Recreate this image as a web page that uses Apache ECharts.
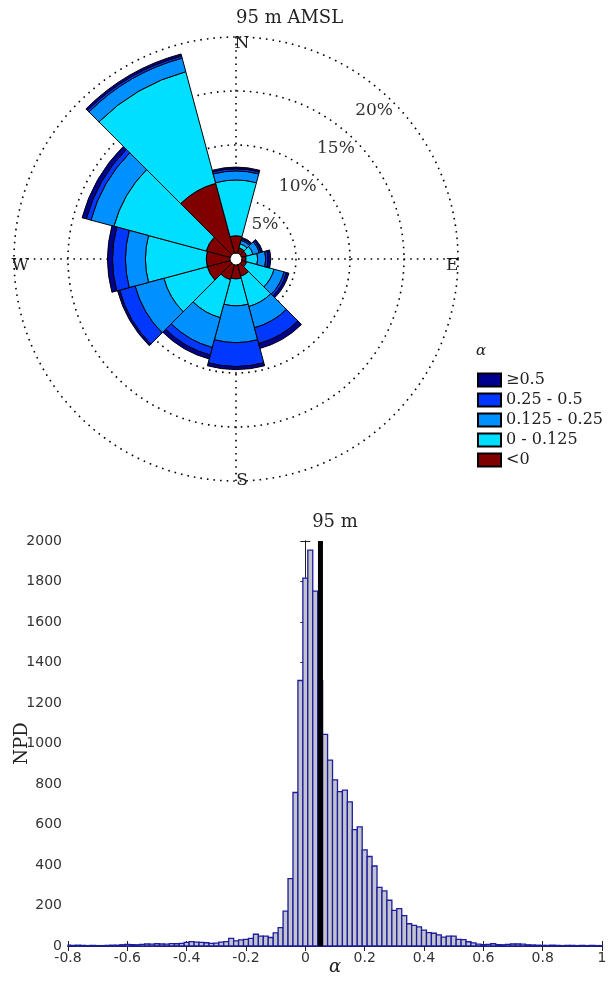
<!DOCTYPE html>
<html><head><meta charset="utf-8">
<script src="https://cdn.jsdelivr.net/npm/echarts@6/dist/echarts.min.js"></script>
<style>html,body{margin:0;padding:0;background:#fff}#c{width:608px;height:983px}</style>
</head><body><div id="c"></div>
<script>
// ---- Wind rose data (percent frequency per 30° sector, compass order) ----
const directions = ['0','30','60','90','120','150','180','210','240','270','300','330'];
const classNames = ['<0','0 - 0.125','0.125 - 0.25','0.25 - 0.5','≥0.5'];
const freqNeg  = [1.6, 0.52,0.46,0.37,0.46,1.10,1.29,1.43,2.20,2.20,2.30,6.70];
const freq0    = [5.16,0.38,0.62,1.08,2.64,2.90,2.49,3.64,4.16,5.63,8.85,10.70];
const freq125  = [0.84,0.33,0.61,0.75,0.96,2.04,3.41,2.86,2.76,1.85,2.20,1.30];
const freq25   = [0.20,0.15,0.15,0.22,0.23,1.52,2.21,0.73,1.48,1.20,0.45,0.20];
const freq5    = [0.15,0.13,0.16,0.25,0.23,0.46,0.28,0.37,0.20,0.46,0.40,0.20];
const classColors = ['#800000','#00dfff','#0090ff','#0038ff','#00008f'];
const ringTicks = [5,10,15,20];
const compassNames = {0:'N',90:'E',180:'S',270:'W'};

// ---- Histogram data ----
const histStart = -0.8;
const histBinWidth = 1/60;
const histCounts = [
  4,3,4,3,2,3,2,2,3,4,4,6,
  8,7,6,8,10,9,11,10,9,12,11,13,
  18,22,19,18,16,13,14,19,22,38,25,30,
  33,38,58,49,49,42,65,91,172,333,758,1311,
  1817,1955,1752,1310,1045,918,820,762,770,712,575,588,
  475,442,395,290,272,226,176,185,150,110,102,94,
  78,66,63,55,44,49,49,33,31,21,15,9,
  7,8,11,7,6,8,10,10,9,6,5,4,
  3,3,4,3,2,3,3,2,3,2,3,2,2
];
const meanAlpha = 0.051;
const xTicks = {min:-0.8, max:1, step:0.2};
const yTicks = {min:0, max:2000, step:200};

const serif = 'DejaVu Serif';
const sans = 'DejaVu Sans';
const dotted = {color:'#000', width:1.6, type:[1.6,5]};
const seriesFreq = [freqNeg, freq0, freq125, freq25, freq5];
const C = [236,259];

const chart = echarts.init(document.getElementById('c'), null, {renderer:'canvas'});
const roseSeries = seriesFreq.map((arr, i) => ({
  type:'bar', coordinateSystem:'polar', polarIndex:0, stack:'rose',
  name: classNames[i], data: arr, barCategoryGap:'0%',
  itemStyle:{color:classColors[i], borderColor:'#000', borderWidth:1},
  z: 3, animation:false
}));

const option = {
  animation:false,
  title:[
    {text:'95 m AMSL', left:236, top:9, padding:0, textStyle:{fontFamily:serif, fontSize:18, fontWeight:'normal', color:'#222'}},
    {text:'α', left:476, top:344, padding:0, textStyle:{fontFamily:serif, fontSize:15, fontStyle:'italic', fontWeight:'normal', color:'#222'}},
    {text:'95 m', left:335, textAlign:'center', top:513, padding:0, textStyle:{fontFamily:serif, fontSize:18, fontWeight:'normal', color:'#222'}}
  ],
  legend:{
    orient:'vertical', left:477, top:372, padding:0, itemWidth:23, itemHeight:13, itemGap:4,
    icon:'rect', selectedMode:false,
    data:['≥0.5','0.25 - 0.5','0.125 - 0.25','0 - 0.125','<0'],
    textStyle:{fontFamily:serif, fontSize:16, lineHeight:14, color:'#222'}
  },
  polar:[
    {center:C, radius:[6,222]},
    {center:C, radius:[6,222]},
    {center:C, radius:[6,222]}
  ],
  angleAxis:[
    {polarIndex:0, type:'category', data:directions, startAngle:105, clockwise:true, show:false},
    {polarIndex:1, type:'value', min:0, max:360, interval:90, startAngle:90, clockwise:true,
     axisLine:{show:false}, axisTick:{show:false},
     splitLine:{show:true, lineStyle:dotted},
     axisLabel:{show:true, margin:-15, color:'#222', fontFamily:serif, fontSize:17,
       formatter: v => { const n = compassNames[v % 360]; return n ? '{'+n.toLowerCase()+'|'+n+'}' : ''; },
       rich:{
         n:{fontFamily:serif, fontSize:17, color:'#222', padding:[0,0,0,12]},
         e:{fontFamily:serif, fontSize:17, color:'#222', padding:[14,0,0,3]},
         s:{fontFamily:serif, fontSize:17, color:'#222', padding:[6,0,0,12]},
         w:{fontFamily:serif, fontSize:17, color:'#222', padding:[14,0,0,0]}
       }}},
    {polarIndex:2, type:'value', min:0, max:360, startAngle:45, clockwise:true, show:false}
  ],
  radiusAxis:[
    {polarIndex:0, type:'value', min:0, max:20, show:false},
    {polarIndex:1, type:'value', min:0, max:20, show:false},
    {polarIndex:2, type:'value', min:0, max:20, interval:5,
     axisLine:{show:false}, axisTick:{show:false},
     splitLine:{show:true, lineStyle:dotted},
     axisLabel:{show:true, margin:0, align:'right', verticalAlign:'top', color:'#333',
       fontFamily:serif, fontSize:17,
       formatter: v => ringTicks.includes(v) ? v + '%' : ''}}
  ],
  grid:[{left:68, top:541, width:534, height:405, containLabel:false, outerBoundsMode:'none'}],
  xAxis:[
    {gridIndex:0, type:'value', position:'bottom', min:xTicks.min, max:xTicks.max, interval:xTicks.step,
     axisLine:{show:true, lineStyle:{color:'#222', width:1}},
     axisTick:{show:true, inside:true, length:5, lineStyle:{color:'#222'}},
     axisLabel:{fontFamily:sans, fontSize:14, color:'#333', margin:5, formatter: v => String(+v.toFixed(1))},
     splitLine:{show:false},
     name:'α', nameLocation:'middle', nameGap:12, nameMoveOverlap:false,
     nameTextStyle:{fontFamily:serif, fontSize:18, fontStyle:'italic', color:'#222'}},
    {gridIndex:0, type:'value', position:'top', min:xTicks.min, max:xTicks.max, interval:xTicks.step,
     axisLine:{show:true, lineStyle:{color:'#222', width:1}},
     axisTick:{show:true, inside:true, length:5, lineStyle:{color:'#222'}},
     axisLabel:{show:false}, splitLine:{show:false}}
  ],
  yAxis:[
    {gridIndex:0, type:'value', position:'left', min:yTicks.min, max:yTicks.max, interval:yTicks.step,
     axisLine:{show:true, lineStyle:{color:'#222', width:1}},
     axisTick:{show:true, inside:true, length:5, lineStyle:{color:'#222'}},
     axisLabel:{fontFamily:sans, fontSize:14, color:'#333', margin:6, formatter: v => String(v)},
     splitLine:{show:false},
     name:'NPD', nameLocation:'middle', nameGap:37, nameRotate:90, nameMoveOverlap:false,
     nameTextStyle:{fontFamily:serif, fontSize:18, color:'#222'}},
    {gridIndex:0, type:'value', position:'right', min:yTicks.min, max:yTicks.max, interval:yTicks.step,
     axisLine:{show:true, lineStyle:{color:'#222', width:1}},
     axisTick:{show:true, inside:true, length:5, lineStyle:{color:'#222'}},
     axisLabel:{show:false}, splitLine:{show:false}}
  ],
  series: roseSeries.concat([
    {type:'custom', xAxisIndex:0, yAxisIndex:0, z:3,
     data: histCounts.map((c, i) => [histStart + i*histBinWidth, c]),
     renderItem:(params, api) => {
       const x = api.value(0), y = api.value(1);
       const p0 = api.coord([x - histBinWidth/2, y]);
       const p1 = api.coord([x + histBinWidth/2, 0]);
       const cs = params.coordSys;
       const shape = echarts.graphic.clipRectByRect(
         {x:p0[0], y:p0[1], width:p1[0]-p0[0], height:p1[1]-p0[1]},
         {x:cs.x, y:cs.y, width:cs.width, height:cs.height});
       return shape && {type:'rect', shape:shape,
         style:{fill:'#c3c3cc', stroke:'#1c1ca0', lineWidth:1.3}};
     }},
    {type:'line', xAxisIndex:0, yAxisIndex:0, z:5, symbol:'none',
     data:[[meanAlpha, yTicks.min],[meanAlpha, yTicks.max]],
     lineStyle:{color:'#000', width:5}}
  ])
};
chart.setOption(option);
</script></body></html>
